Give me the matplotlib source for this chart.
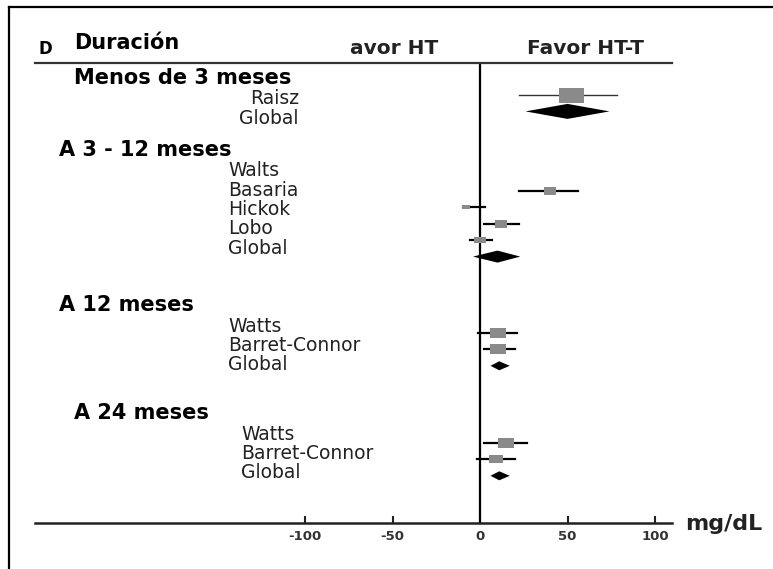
import matplotlib
matplotlib.use("Agg")
import matplotlib.pyplot as plt
from matplotlib.transforms import blended_transform_factory
from matplotlib.lines import Line2D

plt.rcParams["axes.unicode_minus"] = False

# datos (mg/dL)
groups = ["Menos de 3 meses", "A 3 - 12 meses", "A 12 meses", "A 24 meses"]
studies = [["Raisz", "Global"],
           ["Walts", "Basaria", "Hickok", "Lobo", "Global"],
           ["Watts", "Barret-Connor", "Global"],
           ["Watts", "Barret-Connor", "Global"]]
est = [[52, 50], [40, -8, 12, 0, 10], [10, 10, 11], [15, 9, 11]]
lo = [[22, 26], [22, -10, 2, -6, -4], [-1, 2, 6], [2, -2, 6]]
hi = [[78, 74], [56, 3, 22, 7, 23], [21, 20, 17], [27, 20, 17]]
weights = [[100], [25, 10, 25, 20], [40, 40], [40, 35]]
xticks = [-100, -50, 0, 50, 100]

# layout (pixels of the original picture)
W, H = 773, 569
head_y = [78, 150, 305, 413]
head_x = [74, 59, 59, 74]
lab_x = [299, 228, 228, 241]
lab_ha = ["right", "left", "left", "left"]
lab_step = 19.3
mark_y0 = [95, 191, 333, 443]
mark_step = 16.4
dia_h = [15, 12, 9, 9]
px_per_unit = 1.75
x0 = 480

fig = plt.figure(figsize=(W / 100, H / 100), dpi=100)
ax = fig.add_axes([35 / W, 1 - 523 / H, (672 - 35) / W, (523 - 63) / H])
ax.set_xlim((35 - x0) / px_per_unit, (672 - x0) / px_per_unit)
ax.set_ylim(523, 63)

for s in ["left", "right"]:
    ax.spines[s].set_visible(False)
ax.spines["bottom"].set_linewidth(1.8)
ax.spines["bottom"].set_color("#222222")
ax.spines["top"].set_linewidth(1.6)
ax.spines["top"].set_color("#333333")
ax.set_yticks([])
ax.set_xticks(xticks)
ax.tick_params(axis="x", direction="in", length=5, width=1.5, pad=5,
               labelsize=9.5, labelcolor="#333333", color="#222222")
for t in ax.get_xticklabels():
    t.set_fontweight("bold")

ax.axvline(0, color="black", lw=1.6)

xt = blended_transform_factory(fig.transFigure, ax.transData)
sq = [(-1, -0.6), (1, -0.6), (1, 0.6), (-1, 0.6), (-1, -0.6)]

for g in range(len(groups)):
    ax.text(head_x[g] / W, head_y[g], groups[g], transform=xt, fontsize=15,
            fontweight="bold", va="center", ha="left")
    for i, name in enumerate(studies[g]):
        y = head_y[g] + 21 + i * lab_step
        ax.text(lab_x[g] / W, y, name, transform=xt, fontsize=13.5,
                va="center", ha=lab_ha[g], color="#222222")
        ym = mark_y0[g] + i * mark_step
        if name == "Global":
            h = dia_h[g] / 2
            ax.fill([lo[g][i], est[g][i], hi[g][i], est[g][i]],
                    [ym, ym - h, ym, ym + h], color="black", lw=0)
        else:
            lc = "#333333" if g == 0 else "black"
            lw = 1.0 if g == 0 else 1.6
            ax.plot([lo[g][i], hi[g][i]], [ym, ym], color=lc, lw=lw)
            ms = 18 * (weights[g][i] / 100) ** 0.5
            ax.plot(est[g][i], ym, marker=sq, ms=ms, color="#8a8a8a", mew=0)

# encabezado
fig.text(45 / W, 1 - 49 / H, "D", fontsize=12, fontweight="bold", ha="center", va="center")
fig.text(74 / W, 1 - 43 / H, "Duración", fontsize=15, fontweight="bold", ha="left", va="center")
fig.text(350 / W, 1 - 48 / H, "avor HT", fontsize=14.5, fontweight="bold", ha="left", va="center",
         color="#222222")
fig.text(527 / W, 1 - 48 / H, "Favor HT-T", fontsize=14.5, fontweight="bold", ha="left", va="center",
         color="#222222")
fig.text(685 / W, 1 - 524 / H, "mg/dL", fontsize=16, fontweight="bold", ha="left", va="center",
         color="#222222")

# marco
fig.add_artist(Line2D([9 / W, 9 / W], [0, 1 - 7 / H], color="black", lw=1.6))
fig.add_artist(Line2D([9 / W, 1], [1 - 7 / H, 1 - 7 / H], color="black", lw=1.6))

fig.savefig("out.png", dpi=100)
